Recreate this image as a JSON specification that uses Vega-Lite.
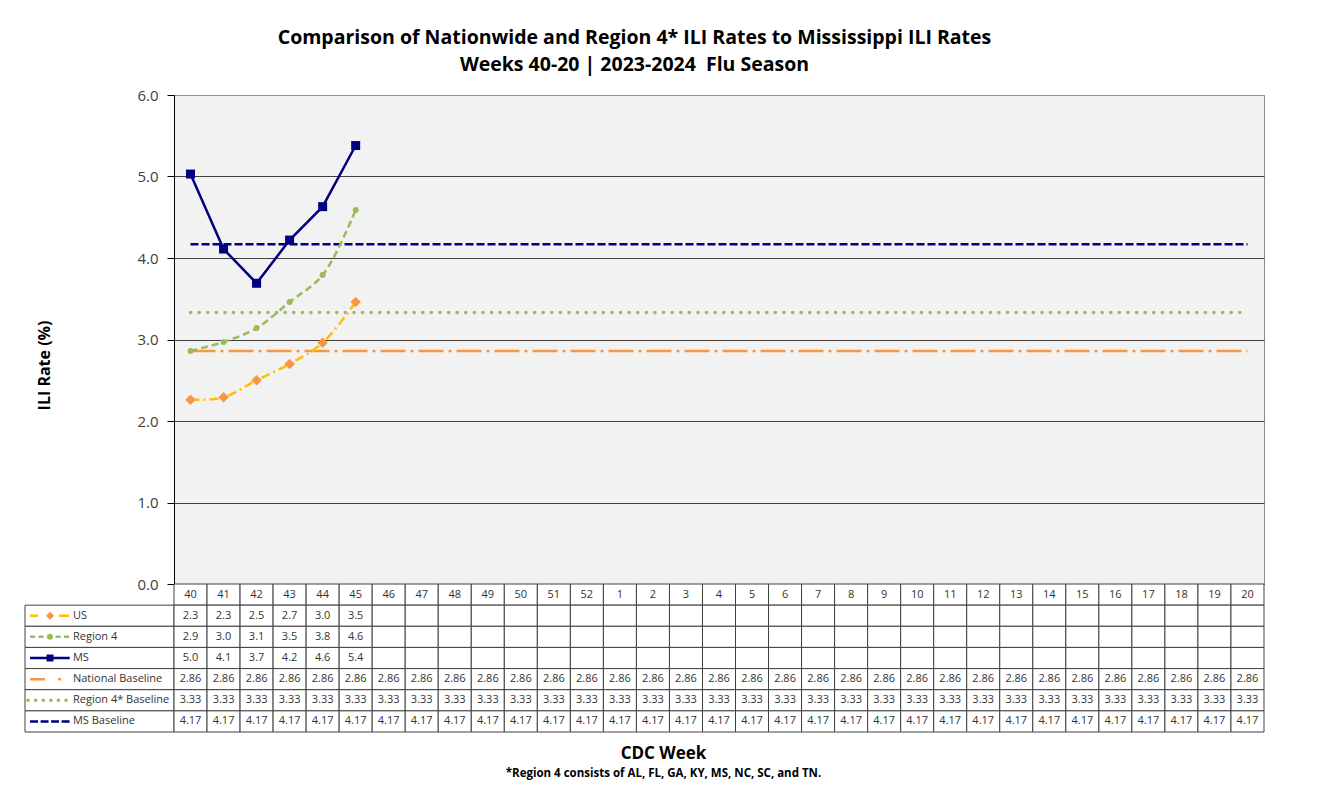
{
  "$schema": "https://vega.github.io/schema/vega-lite/v6.json",
  "padding": {"left": 24, "top": 28, "right": 5, "bottom": 5},
  "background": "white",
  "title": {
    "text": ["Comparison of Nationwide and Region 4* ILI Rates to Mississippi ILI Rates", "Weeks 40-20 | 2023-2024 \u00a0Flu Season"],
    "font": "Open Sans", "fontSize": 19.5, "fontWeight": "bold", "color": "#000000",
    "anchor": "middle", "dx": -10, "lineHeight": 27, "offset": 12
  },
  "datasets": {
    "weekly": [
      {"week": "40", "US": 2.26, "Region 4": 2.86, "MS": 5.03, "National Baseline": 2.86, "Region 4* Baseline": 3.33, "MS Baseline": 4.17},
      {"week": "41", "US": 2.29, "Region 4": 2.97, "MS": 4.11, "National Baseline": 2.86, "Region 4* Baseline": 3.33, "MS Baseline": 4.17},
      {"week": "42", "US": 2.50, "Region 4": 3.14, "MS": 3.69, "National Baseline": 2.86, "Region 4* Baseline": 3.33, "MS Baseline": 4.17},
      {"week": "43", "US": 2.70, "Region 4": 3.46, "MS": 4.22, "National Baseline": 2.86, "Region 4* Baseline": 3.33, "MS Baseline": 4.17},
      {"week": "44", "US": 2.96, "Region 4": 3.79, "MS": 4.63, "National Baseline": 2.86, "Region 4* Baseline": 3.33, "MS Baseline": 4.17},
      {"week": "45", "US": 3.46, "Region 4": 4.59, "MS": 5.38, "National Baseline": 2.86, "Region 4* Baseline": 3.33, "MS Baseline": 4.17},
      {"week": "46", "National Baseline": 2.86, "Region 4* Baseline": 3.33, "MS Baseline": 4.17},
      {"week": "47", "National Baseline": 2.86, "Region 4* Baseline": 3.33, "MS Baseline": 4.17},
      {"week": "48", "National Baseline": 2.86, "Region 4* Baseline": 3.33, "MS Baseline": 4.17},
      {"week": "49", "National Baseline": 2.86, "Region 4* Baseline": 3.33, "MS Baseline": 4.17},
      {"week": "50", "National Baseline": 2.86, "Region 4* Baseline": 3.33, "MS Baseline": 4.17},
      {"week": "51", "National Baseline": 2.86, "Region 4* Baseline": 3.33, "MS Baseline": 4.17},
      {"week": "52", "National Baseline": 2.86, "Region 4* Baseline": 3.33, "MS Baseline": 4.17},
      {"week": "1", "National Baseline": 2.86, "Region 4* Baseline": 3.33, "MS Baseline": 4.17},
      {"week": "2", "National Baseline": 2.86, "Region 4* Baseline": 3.33, "MS Baseline": 4.17},
      {"week": "3", "National Baseline": 2.86, "Region 4* Baseline": 3.33, "MS Baseline": 4.17},
      {"week": "4", "National Baseline": 2.86, "Region 4* Baseline": 3.33, "MS Baseline": 4.17},
      {"week": "5", "National Baseline": 2.86, "Region 4* Baseline": 3.33, "MS Baseline": 4.17},
      {"week": "6", "National Baseline": 2.86, "Region 4* Baseline": 3.33, "MS Baseline": 4.17},
      {"week": "7", "National Baseline": 2.86, "Region 4* Baseline": 3.33, "MS Baseline": 4.17},
      {"week": "8", "National Baseline": 2.86, "Region 4* Baseline": 3.33, "MS Baseline": 4.17},
      {"week": "9", "National Baseline": 2.86, "Region 4* Baseline": 3.33, "MS Baseline": 4.17},
      {"week": "10", "National Baseline": 2.86, "Region 4* Baseline": 3.33, "MS Baseline": 4.17},
      {"week": "11", "National Baseline": 2.86, "Region 4* Baseline": 3.33, "MS Baseline": 4.17},
      {"week": "12", "National Baseline": 2.86, "Region 4* Baseline": 3.33, "MS Baseline": 4.17},
      {"week": "13", "National Baseline": 2.86, "Region 4* Baseline": 3.33, "MS Baseline": 4.17},
      {"week": "14", "National Baseline": 2.86, "Region 4* Baseline": 3.33, "MS Baseline": 4.17},
      {"week": "15", "National Baseline": 2.86, "Region 4* Baseline": 3.33, "MS Baseline": 4.17},
      {"week": "16", "National Baseline": 2.86, "Region 4* Baseline": 3.33, "MS Baseline": 4.17},
      {"week": "17", "National Baseline": 2.86, "Region 4* Baseline": 3.33, "MS Baseline": 4.17},
      {"week": "18", "National Baseline": 2.86, "Region 4* Baseline": 3.33, "MS Baseline": 4.17},
      {"week": "19", "National Baseline": 2.86, "Region 4* Baseline": 3.33, "MS Baseline": 4.17},
      {"week": "20", "National Baseline": 2.86, "Region 4* Baseline": 3.33, "MS Baseline": 4.17}
    ],
    "series": [
      {"series": "US"}, {"series": "Region 4"}, {"series": "MS"},
      {"series": "National Baseline"}, {"series": "Region 4* Baseline"}, {"series": "MS Baseline"}
    ]
  },
  "columns": 2,
  "spacing": 0,
  "bounds": "flush",
  "concat": [
    {
      "width": 149, "height": 489,
      "data": {"values": []},
      "mark": "point"
    },
    {
      "width": 1090, "height": 489,
      "view": {"fill": "#F2F2F2", "stroke": "#8C8C8C", "strokeWidth": 1},
      "data": {"name": "weekly"},
      "transform": [
        {"fold": ["US", "Region 4", "MS", "National Baseline", "Region 4* Baseline", "MS Baseline"], "as": ["series", "value"]},
        {"filter": "isValid(datum.value)"}
      ],
      "encoding": {
        "x": {"field": "week", "type": "ordinal", "scale": {"type": "point", "domain": ["40","41","42","43","44","45","46","47","48","49","50","51","52","1","2","3","4","5","6","7","8","9","10","11","12","13","14","15","16","17","18","19","20"], "padding": 0.5}, "axis": null},
        "y": {
          "field": "value", "type": "quantitative",
          "scale": {"domain": [0, 6], "nice": false, "zero": true},
          "axis": {
            "values": [0, 1, 2, 3, 4, 5, 6], "format": ".1f",
            "grid": true,
            "gridColor": {"condition": {"test": "datum.value === 6", "value": "#8C8C8C"}, "value": "#404040"},
            "gridWidth": 1,
            "domainColor": "#000000", "domainWidth": 1,
            "tickColor": "#000000", "tickSize": 7, "tickWidth": 1,
            "labelFont": "Open Sans", "labelFontSize": 15, "labelColor": "#404040", "labelPadding": 9,
            "title": "ILI Rate (%)", "titleFont": "Open Sans", "titleFontSize": 16, "titleFontWeight": "bold",
            "titleColor": "#000000", "titlePadding": 84, "titleY": 270
          }
        }
      },
      "layer": [
        {"transform": [{"filter": "datum.series === 'National Baseline'"}],
         "mark": {"type": "line", "color": "#F79646", "strokeWidth": 2.5, "strokeDash": [25, 5, 3, 5]}},
        {"transform": [{"filter": "datum.series === 'Region 4* Baseline'"}],
         "mark": {"type": "line", "color": "#9BBB59", "strokeWidth": 3.5, "strokeDash": [0.1, 8.5], "strokeCap": "round"}},
        {"transform": [{"filter": "datum.series === 'MS Baseline'"}],
         "mark": {"type": "line", "color": "#000080", "strokeWidth": 2.5, "strokeDash": [8, 3]}},
        {"transform": [{"filter": "datum.series === 'US'"}],
         "mark": {"type": "line", "color": "#FFC000", "strokeWidth": 2.5, "strokeDash": [9, 4, 2, 4], "interpolate": "catmull-rom"}},
        {"transform": [{"filter": "datum.series === 'US'"}],
         "mark": {"type": "point", "shape": "diamond", "filled": true, "color": "#F79646", "size": 110, "opacity": 1}},
        {"transform": [{"filter": "datum.series === 'Region 4'"}],
         "mark": {"type": "line", "color": "#9BBB59", "strokeWidth": 2.5, "strokeDash": [7, 4], "interpolate": "catmull-rom"}},
        {"transform": [{"filter": "datum.series === 'Region 4'"}],
         "mark": {"type": "point", "shape": "circle", "filled": true, "color": "#9BBB59", "size": 36, "opacity": 1}},
        {"transform": [{"filter": "datum.series === 'MS'"}],
         "mark": {"type": "line", "color": "#000080", "strokeWidth": 2.5}},
        {"transform": [{"filter": "datum.series === 'MS'"}],
         "mark": {"type": "point", "shape": "square", "filled": true, "color": "#000080", "size": 81, "opacity": 1}}
      ]
    },
    {
      "width": 149, "height": 148,
      "data": {"name": "series"},
      "encoding": {
        "y": {"field": "series", "type": "nominal", "scale": {"type": "band", "domain": ["week", "US", "Region 4", "MS", "National Baseline", "Region 4* Baseline", "MS Baseline"], "paddingInner": 0, "paddingOuter": 0}, "axis": null}
      },
      "layer": [
        {"mark": {"type": "rect", "fill": "white", "stroke": "#404040", "strokeWidth": 1},
         "encoding": {
           "x": {"datum": 0, "type": "quantitative", "scale": {"domain": [0, 1], "nice": false, "zero": false},
                 "axis": {"labels": false, "ticks": false, "domain": false, "grid": false,
                          "title": "*Region 4 consists of AL, FL, GA, KY, MS, NC, SC, and TN.",
                          "titleFont": "Open Sans", "titleFontSize": 11.5, "titleFontWeight": "bold", "titleColor": "#000000",
                          "titleX": 638, "titleY": 35}},
           "x2": {"datum": 1}
         }},
        {"transform": [{"filter": "datum.series === 'US'"}],
         "mark": {"type": "rule", "color": "#FFC000", "strokeWidth": 2.5, "strokeDash": [8, 21, 10]},
         "encoding": {"x": {"datum": 0.034}, "x2": {"datum": 0.3}}},
        {"transform": [{"filter": "datum.series === 'US'"}],
         "mark": {"type": "point", "shape": "diamond", "filled": true, "color": "#F79646", "size": 64, "opacity": 1},
         "encoding": {"x": {"datum": 0.168}}},
        {"transform": [{"filter": "datum.series === 'Region 4'"}],
         "mark": {"type": "rule", "color": "#9BBB59", "strokeWidth": 2.5, "strokeDash": [5, 3.5]},
         "encoding": {"x": {"datum": 0.034}, "x2": {"datum": 0.3}}},
        {"transform": [{"filter": "datum.series === 'Region 4'"}],
         "mark": {"type": "point", "shape": "circle", "filled": true, "color": "#9BBB59", "size": 36, "opacity": 1},
         "encoding": {"x": {"datum": 0.168}}},
        {"transform": [{"filter": "datum.series === 'MS'"}],
         "mark": {"type": "rule", "color": "#000080", "strokeWidth": 2.5},
         "encoding": {"x": {"datum": 0.034}, "x2": {"datum": 0.3}}},
        {"transform": [{"filter": "datum.series === 'MS'"}],
         "mark": {"type": "point", "shape": "square", "filled": true, "color": "#000080", "size": 49, "opacity": 1},
         "encoding": {"x": {"datum": 0.168}}},
        {"transform": [{"filter": "datum.series === 'National Baseline'"}],
         "mark": {"type": "rule", "color": "#F79646", "strokeWidth": 2.5, "strokeDash": [15, 13, 3, 20]},
         "encoding": {"x": {"datum": 0.034}, "x2": {"datum": 0.3}}},
        {"transform": [{"filter": "datum.series === 'Region 4* Baseline'"}],
         "mark": {"type": "rule", "color": "#9BBB59", "strokeWidth": 3.5, "strokeDash": [0.1, 7.5], "strokeCap": "round"},
         "encoding": {"x": {"datum": 0.02}, "x2": {"datum": 0.3}}},
        {"transform": [{"filter": "datum.series === 'MS Baseline'"}],
         "mark": {"type": "rule", "color": "#000080", "strokeWidth": 2.5, "strokeDash": [8, 2.5]},
         "encoding": {"x": {"datum": 0.034}, "x2": {"datum": 0.3}}},
        {"mark": {"type": "text", "align": "left", "baseline": "middle", "font": "Open Sans", "fontSize": 11, "color": "#333333"},
         "encoding": {"x": {"datum": 0.322}, "text": {"field": "series", "type": "nominal"}}}
      ]
    },
    {
      "width": 1090, "height": 148,
      "data": {"name": "weekly"},
      "transform": [
        {"fold": ["week", "US", "Region 4", "MS", "National Baseline", "Region 4* Baseline", "MS Baseline"], "as": ["series", "value"]}
      ],
      "encoding": {
        "x": {"field": "week", "type": "ordinal",
              "scale": {"type": "band", "domain": ["40","41","42","43","44","45","46","47","48","49","50","51","52","1","2","3","4","5","6","7","8","9","10","11","12","13","14","15","16","17","18","19","20"], "paddingInner": 0, "paddingOuter": 0},
              "axis": {"labels": false, "ticks": false, "domain": false, "grid": false,
                       "title": "CDC Week", "titleFont": "Open Sans", "titleFontSize": 17, "titleFontWeight": "bold",
                       "titleColor": "#000000", "titlePadding": 13, "titleX": 489}},
        "y": {"field": "series", "type": "nominal", "scale": {"type": "band", "domain": ["week", "US", "Region 4", "MS", "National Baseline", "Region 4* Baseline", "MS Baseline"], "paddingInner": 0, "paddingOuter": 0}, "axis": null}
      },
      "layer": [
        {"mark": {"type": "rect", "fill": "white", "stroke": "#404040", "strokeWidth": 1}},
        {"transform": [{"filter": "datum.series === 'week'"}],
         "mark": {"type": "text", "baseline": "middle", "font": "Open Sans", "fontSize": 11, "color": "#333333"},
         "encoding": {"text": {"field": "value", "type": "nominal"}}},
        {"transform": [{"filter": "(datum.series === 'US' || datum.series === 'Region 4' || datum.series === 'MS') && isValid(datum.value)"}],
         "mark": {"type": "text", "baseline": "middle", "font": "Open Sans", "fontSize": 11, "color": "#333333"},
         "encoding": {"text": {"field": "value", "type": "quantitative", "format": ".1f"}}},
        {"transform": [{"filter": "datum.series === 'National Baseline' || datum.series === 'Region 4* Baseline' || datum.series === 'MS Baseline'"}],
         "mark": {"type": "text", "baseline": "middle", "font": "Open Sans", "fontSize": 11, "color": "#333333"},
         "encoding": {"text": {"field": "value", "type": "quantitative", "format": ".2f"}}}
      ]
    }
  ],
  "config": {
    "font": "Open Sans",
    "view": {"stroke": null}
  }
}
